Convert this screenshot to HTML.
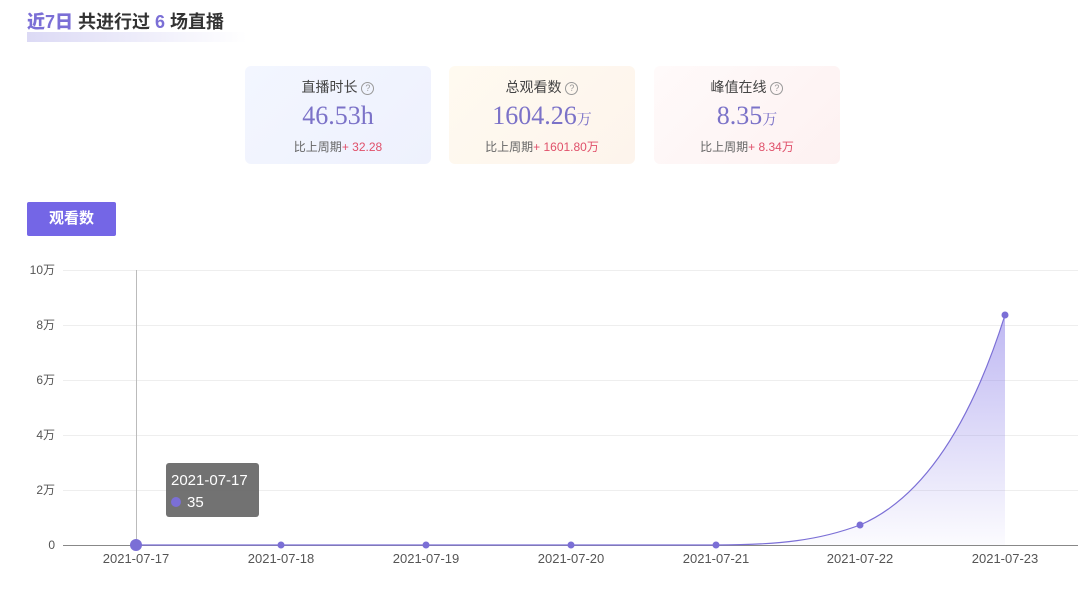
<!DOCTYPE html>
<html><head><meta charset="utf-8"><style>
body{margin:0;width:1080px;height:589px;background:#fff;font-family:"Liberation Sans","Noto Sans CJK SC",sans-serif;position:relative;overflow:hidden}
.t{position:absolute;left:27px;top:8px;font-size:18px;color:#333;font-weight:bold}
.t b{color:#7b6fd6}
.ul{position:absolute;left:27px;top:32px;width:220px;height:10px;background:linear-gradient(90deg,#dcdaf5,#fff)}
.card{position:absolute;top:66px;width:186px;height:98px;border-radius:6px;text-align:center}
.card .h{margin-top:11px;font-size:14px;color:#444;height:20px}
.card .v{font-family:"Liberation Serif","Noto Serif CJK SC",serif;font-size:26px;color:#7b72c8;margin-top:4px;line-height:30px;height:30px;overflow:hidden}
.card .v small{font-size:15px}
.card .c{font-size:12px;color:#666;margin-top:7px}
.card .c span{color:#e0506a}
.q{display:inline-block;width:11px;height:11px;border:1px solid #999;border-radius:50%;font-size:9px;line-height:11px;color:#999;vertical-align:1px}
.btn{position:absolute;left:27px;top:202px;width:89px;height:34px;background:#7466e6;color:#fff;font-size:15px;font-weight:bold;text-align:center;line-height:34px;border-radius:2px}
</style></head><body>
<div class="ul"></div>
<div class="t"><b>近7日</b> 共进行过 <b>6</b> 场直播</div>
<div class="card" style="left:245px;background:linear-gradient(135deg,#f3f6ff,#eef1fd)"><div class="h">直播时长 <span class="q">?</span></div><div class="v">46.53h</div><div class="c">比上周期<span>+ 32.28</span></div></div>
<div class="card" style="left:449px;background:linear-gradient(135deg,#fffaf0,#fdf4ec)"><div class="h">总观看数 <span class="q">?</span></div><div class="v">1604.26<small>万</small></div><div class="c">比上周期<span>+ 1601.80万</span></div></div>
<div class="card" style="left:654px;background:linear-gradient(135deg,#fffafa,#fdf1f1)"><div class="h">峰值在线 <span class="q">?</span></div><div class="v">8.35<small>万</small></div><div class="c">比上周期<span>+ 8.34万</span></div></div>
<div class="btn">观看数</div>
<svg width="1080" height="589" style="position:absolute;left:0;top:0" font-family="Liberation Sans,Noto Sans CJK SC,sans-serif">
<defs><linearGradient id="g" x1="0" y1="0" x2="0" y2="1"><stop offset="0" stop-color="#8a7ee8" stop-opacity=".55"/><stop offset="1" stop-color="#8a7ee8" stop-opacity=".03"/></linearGradient></defs>
<g stroke="#eee" stroke-width="1">
<line x1="63" x2="1078" y1="270.5" y2="270.5"/><line x1="63" x2="1078" y1="325.5" y2="325.5"/><line x1="63" x2="1078" y1="380.5" y2="380.5"/><line x1="63" x2="1078" y1="435.5" y2="435.5"/><line x1="63" x2="1078" y1="490.5" y2="490.5"/></g>
<line x1="63" x2="1078" y1="545.5" y2="545.5" stroke="#888"/>
<g font-size="12" fill="#555" text-anchor="end"><text x="55" y="274">10万</text><text x="55" y="329">8万</text><text x="55" y="384">6万</text><text x="55" y="439">4万</text><text x="55" y="494">2万</text><text x="55" y="549">0</text></g>
<g font-size="13" fill="#555" text-anchor="middle"><text x="136" y="563">2021-07-17</text><text x="281" y="563">2021-07-18</text><text x="426" y="563">2021-07-19</text><text x="571" y="563">2021-07-20</text><text x="716" y="563">2021-07-21</text><text x="860" y="563">2021-07-22</text><text x="1005" y="563">2021-07-23</text></g>
<line x1="136.5" x2="136.5" y1="270" y2="545" stroke="#bbb"/>
<path d="M136 545 L716 545 C780 545 820 540 860 525 C930 495 975 410 1005 315 L1005 545 Z" fill="url(#g)"/>
<path d="M136 545 L716 545 C780 545 820 540 860 525 C930 495 975 410 1005 315" fill="none" stroke="#7b6fd6" stroke-width="1.2"/>
<g fill="#7b6fd6"><circle cx="136" cy="545" r="6"/><circle cx="281" cy="545" r="3.5"/><circle cx="426" cy="545" r="3.5"/><circle cx="571" cy="545" r="3.5"/><circle cx="716" cy="545" r="3.5"/><circle cx="860" cy="525" r="3.5"/><circle cx="1005" cy="315" r="3.5"/></g>
<rect x="166" y="463" width="93" height="54" rx="3" fill="#666" opacity=".92"/>
<text x="171" y="485" font-size="15" fill="#fff">2021-07-17</text>
<circle cx="176" cy="502" r="5" fill="#7b6fd6"/>
<text x="187" y="507" font-size="15" fill="#fff">35</text>
</svg>
</body></html>
